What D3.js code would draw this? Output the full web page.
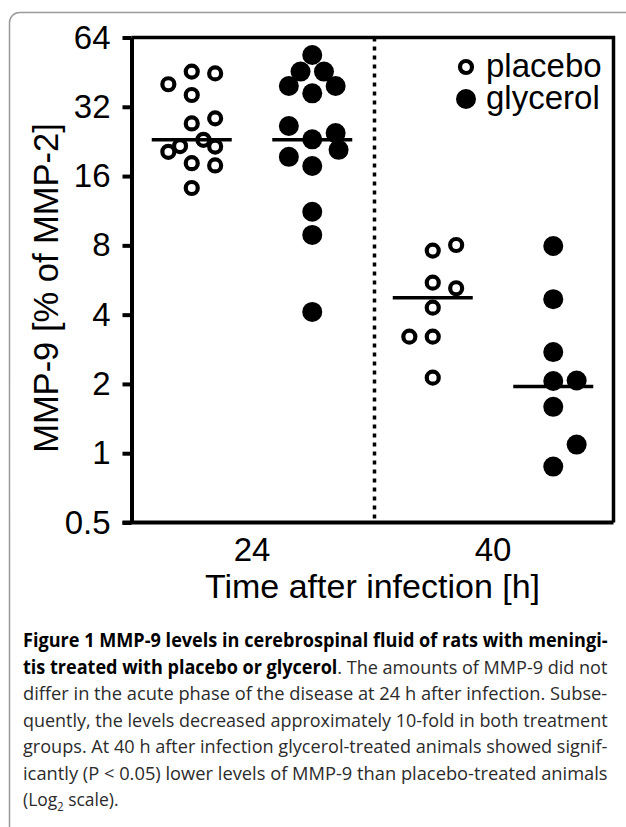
<!DOCTYPE html>
<meta charset="utf-8">
<style>
body { margin: 0; background: #fff; }
.axis text { font-family: "Liberation Sans", Arial, sans-serif; font-size: 33px; fill: #000; }
.axis path, .axis line { stroke: #000; stroke-width: 4; }
.caption { font-family: "Open Sans", sans-serif; font-size: 19px; fill: #2b2b2b; }
</style>
<svg width="626" height="827"></svg>
<script src="https://d3js.org/d3.v7.min.js"></script>
<script>

var svg = d3.select("svg");

// data: MMP-9 [% of MMP-2], slot = column in the dot cluster
var times = ["24", "40"];
var groups = ["placebo 24", "glycerol 24", "placebo 40", "glycerol 40"];

var placebo24 = [40.1, 45.5, 44.7, 36.0, 28.5, 27.1, 23.0, 21.6, 21.5, 20.4, 18.2, 17.8, 14.2];
var placebo24Slot = [-2, 0, 2, 0, 2, 0, 1, -1, 2, -2, 0, 2, 0];
var glycerol24 = [53.7, 45.5, 45.5, 39.4, 39.4, 36.6, 26.4, 24.6, 23.1, 20.8, 19.4, 17.7, 11.2, 8.88, 4.11];
var glycerol24Slot = [0, -1, 1, -2, 2, 0, -2, 2, 0, 2.25, -2, 0, 0, 0, 0];
var placebo40 = [7.59, 8.03, 5.51, 5.21, 4.29, 3.21, 3.21, 2.13];
var placebo40Slot = [0, 2, 0, 2, 0, -2, 0, 0];
var glycerol40 = [7.95, 4.67, 2.75, 2.06, 2.07, 1.59, 1.09, 0.875];
var glycerol40Slot = [0, 0, 0, 0, 2, 0, 2, 0];
var medians = [23.0, 23.0, 4.74, 1.95];

var yTicks = [0.5, 1, 2, 4, 8, 16, 32, 64];

var series = [
  {group: groups[0], filled: false, values: placebo24, slots: placebo24Slot},
  {group: groups[1], filled: true, values: glycerol24, slots: glycerol24Slot},
  {group: groups[2], filled: false, values: placebo40, slots: placebo40Slot},
  {group: groups[3], filled: true, values: glycerol40, slots: glycerol40Slot}
];

var plotLeft = 131.5, plotRight = 613.5, plotTop = 37.5, plotBottom = 522.5;

var y = d3.scaleLog().base(2)
    .domain([0.5, 64])
    .range([plotBottom, plotTop]);

var x = d3.scalePoint()
    .domain(groups)
    .range([plotLeft, plotRight])
    .padding(0.5);

var xTime = d3.scaleBand()
    .domain(times)
    .range([plotLeft, plotRight]);

var slot = d3.scaleLinear().domain([-1, 1]).range([-11.7, 11.7]);

// outer frame of the figure panel
svg.append("rect")
    .attr("x", 9.5).attr("y", 12.5)
    .attr("width", 660).attr("height", 860)
    .attr("rx", 10)
    .attr("fill", "none")
    .attr("stroke", "#9a9a9a")
    .attr("stroke-width", 1.5);

// top and right border of the plot
svg.append("path")
    .attr("d", "M" + plotLeft + "," + plotTop + "H" + plotRight + "V" + plotBottom)
    .attr("fill", "none")
    .attr("stroke", "#000")
    .attr("stroke-width", 3.5);

// dotted divider between time points
svg.append("line")
    .attr("x1", xTime("40") + 2).attr("x2", xTime("40") + 2)
    .attr("y1", plotTop).attr("y2", plotBottom)
    .attr("stroke", "#000")
    .attr("stroke-width", 3.5)
    .attr("stroke-dasharray", "4,5");

svg.append("g")
    .attr("class", "axis")
    .attr("transform", "translate(" + plotLeft + ",0)")
    .call(d3.axisLeft(y)
      .tickValues(yTicks)
      .tickFormat(function(d) { return d; })
      .tickSize(9)
      .tickSizeOuter(0)
      .tickPadding(12));

var xAxis = svg.append("g")
    .attr("class", "axis")
    .attr("transform", "translate(0," + plotBottom + ")")
    .call(d3.axisBottom(xTime)
      .tickSize(0)
      .tickSizeOuter(0)
      .tickPadding(15));
xAxis.select(".domain").attr("d", "M" + (plotLeft - 9) + ",0H" + plotRight);
xAxis.selectAll("text").attr("dy", "0.72em");

svg.append("text")
    .attr("x", (plotLeft + plotRight) / 2)
    .attr("y", 598)
    .attr("text-anchor", "middle")
    .attr("font-family", "Liberation Sans, Arial, sans-serif")
    .attr("font-size", 34)
    .text("Time after infection [h]");

svg.append("text")
    .attr("transform", "translate(58,288) rotate(-90)")
    .attr("text-anchor", "middle")
    .attr("font-family", "Liberation Sans, Arial, sans-serif")
    .attr("font-size", 34.5)
    .text("MMP-9 [% of MMP-2]");

// dots
series.forEach(function(s) {
  svg.append("g").selectAll("circle")
    .data(s.values)
    .enter().append("circle")
      .attr("cx", function(d, i) { return x(s.group) + slot(s.slots[i]); })
      .attr("cy", function(d) { return y(d); })
      .attr("r", s.filled ? 10 : 6)
      .attr("fill", s.filled ? "#000" : "#fff")
      .attr("stroke", "#000")
      .attr("stroke-width", s.filled ? 0 : 4.2);
});

// medians
svg.append("g").selectAll("line")
    .data(medians)
    .enter().append("line")
      .attr("x1", function(d, i) { return x(groups[i]) - 40; })
      .attr("x2", function(d, i) { return x(groups[i]) + 40; })
      .attr("y1", function(d) { return y(d); })
      .attr("y2", function(d) { return y(d); })
      .attr("stroke", "#000")
      .attr("stroke-width", 3.5);

// legend
var legend = svg.append("g").attr("transform", "translate(466,0)");
legend.append("circle").attr("cx", 0).attr("cy", 67).attr("r", 6)
    .attr("fill", "#fff").attr("stroke", "#000").attr("stroke-width", 4.2);
legend.append("circle").attr("cx", 0).attr("cy", 99).attr("r", 10).attr("fill", "#000");
legend.append("text").attr("x", 20).attr("y", 77)
    .attr("font-family", "Liberation Sans, Arial, sans-serif").attr("font-size", 33)
    .text("placebo");
legend.append("text").attr("x", 20).attr("y", 109)
    .attr("font-family", "Liberation Sans, Arial, sans-serif").attr("font-size", 33)
    .text("glycerol");

// caption
var captionLines = [
  [["Figure 1 MMP-9 levels in cerebrospinal fluid of rats with meningi-", true]],
  [["tis treated with placebo or glycerol", true], [". The amounts of MMP-9 did not", false]],
  [["differ in the acute phase of the disease at 24 h after infection. Subse-", false]],
  [["quently, the levels decreased approximately 10-fold in both treatment", false]],
  [["groups. At 40 h after infection glycerol-treated animals showed signif-", false]],
  [["icantly (P < 0.05) lower levels of MMP-9 than placebo-treated animals", false]]
];

var capX = 23, capW = 585;

captionLines.forEach(function(line, i) {
  var g = svg.append("g");
  var t = g.append("text")
      .attr("class", "caption")
      .attr("x", 0)
      .attr("y", 0);
  line.forEach(function(part) {
    t.append("tspan")
      .attr("font-weight", part[1] ? 700 : 400)
      .attr("fill", part[1] ? "#000" : null)
      .text(part[0]);
  });
  var w = t.node().getComputedTextLength();
  g.attr("transform", "translate(" + capX + "," + (647 + i * 26.5) + ") scale(" + (capW / w) + ",1)");
});

var last = svg.append("g")
    .attr("transform", "translate(" + capX + "," + (647 + 6 * 26.5) + ") scale(0.92,1)")
  .append("text")
    .attr("class", "caption");
last.append("tspan").text("(Log");
last.append("tspan").attr("font-size", 12).attr("dy", 5).text("2");
last.append("tspan").attr("dy", -5).text(" scale).");

</script>
